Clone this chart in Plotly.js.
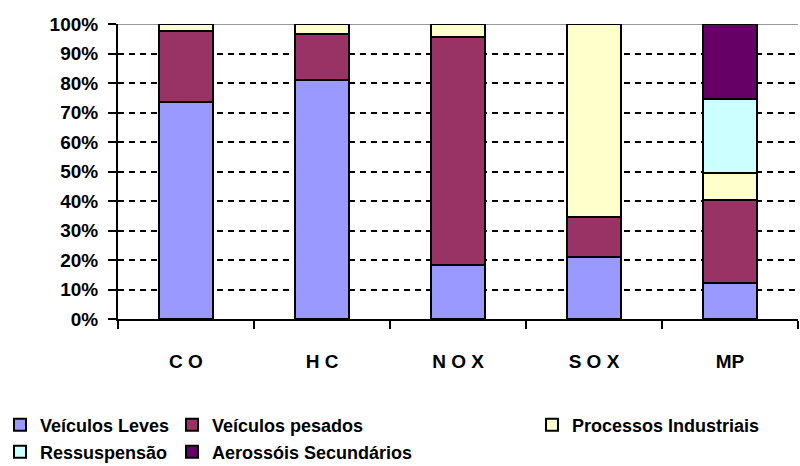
<!DOCTYPE html>
<html>
<head>
<meta charset="utf-8">
<script src="https://cdn.plot.ly/plotly-3.0.1.min.js"></script>
<style>html,body{margin:0;padding:0;background:#fff;}#chart{width:800px;height:466px;}</style>
</head>
<body>
<div id="chart"></div>
<script>
const categories = ["C O", "H C", "N O X", "S O X", "MP"];
const veiculosLeves = [73.5, 81.0, 18.3, 21.0, 12.2];
const veiculosPesados = [24.0, 15.7, 77.4, 13.6, 28.0];
const processosIndustriais = [2.5, 3.3, 4.3, 65.4, 9.4];
const ressuspensao = [0, 0, 0, 0, 25.1];
const aerossois = [0, 0, 0, 0, 25.3];
const seriesNames = ["Veículos Leves", "Veículos pesados", "Processos Industriais", "Ressuspensão", "Aerossóis Secundários"];
const yTicks = [0, 10, 20, 30, 40, 50, 60, 70, 80, 90, 100];
const yTickLabels = ["0%", "10%", "20%", "30%", "40%", "50%", "60%", "70%", "80%", "90%", "100%"];

const seriesData = [veiculosLeves, veiculosPesados, processosIndustriais, ressuspensao, aerossois];
const colors = ["#9999FF", "#993366", "#FFFFCC", "#CCFFFF", "#660066"];
const legendIds = ["legend", "legend2", "legend3", "legend4", "legend5"];

const traces = seriesData.map((vals, i) => ({
  type: "bar",
  x: categories,
  y: vals,
  name: "<b>" + seriesNames[i] + "</b>",
  legend: legendIds[i],
  marker: {color: colors[i], line: {color: "#000", width: 2}},
  hoverinfo: "skip"
}));

const legFont = {family: "Liberation Sans, Arial, sans-serif", size: 18, color: "#000"};
function leg(x, y) {
  return {xref: "container", yref: "container", x: x, y: y, xanchor: "left", yanchor: "middle",
    font: legFont, bgcolor: "rgba(0,0,0,0)", itemwidth: 30, orientation: "h"};
}

const layout = {
  width: 800, height: 466,
  margin: {l: 118, r: 2, t: 24, b: 147},
  paper_bgcolor: "#fff", plot_bgcolor: "#fff",
  barmode: "stack",
  bargap: 0.596,
  font: {family: "Liberation Sans, Arial, sans-serif", color: "#000"},
  xaxis: {
    tickmode: "array", tickvals: categories, ticktext: categories.map(c => "<b>" + c + "</b>"),
    showline: true, linecolor: "#000", linewidth: 2,
    ticks: "outside", ticklen: 8, tickwidth: 2, tickcolor: "#000",
    tickson: "boundaries", showgrid: false,
    tickfont: {size: 19, color: "#000"},
    ticklabelstandoff: 24
  },
  yaxis: {
    range: [0, 100], tickmode: "array", tickvals: yTicks, ticktext: yTickLabels.map(t => "<b>" + t + "</b>"),
    showline: true, linecolor: "#000", linewidth: 2,
    ticks: "outside", ticklen: 8, tickwidth: 2, tickcolor: "#000",
    showgrid: true, gridcolor: "#000", gridwidth: 2, griddash: "6px,5px",
    zeroline: false,
    tickfont: {size: 19, color: "#000"},
    ticklabelstandoff: 6
  },
  shapes: [{type: "line", xref: "paper", yref: "y", x0: 0, x1: 1, y0: 100, y1: 100,
    line: {color: "#999", width: 2}, layer: "below"}],
  legend: leg(0, 0.088),
  legend2: leg(0.215, 0.088),
  legend3: leg(0.665, 0.088),
  legend4: leg(0, 0.03),
  legend5: leg(0.215, 0.03),
  showlegend: true
};

Plotly.newPlot("chart", traces, layout, {staticPlot: true, displayModeBar: false});
</script>
</body>
</html>
